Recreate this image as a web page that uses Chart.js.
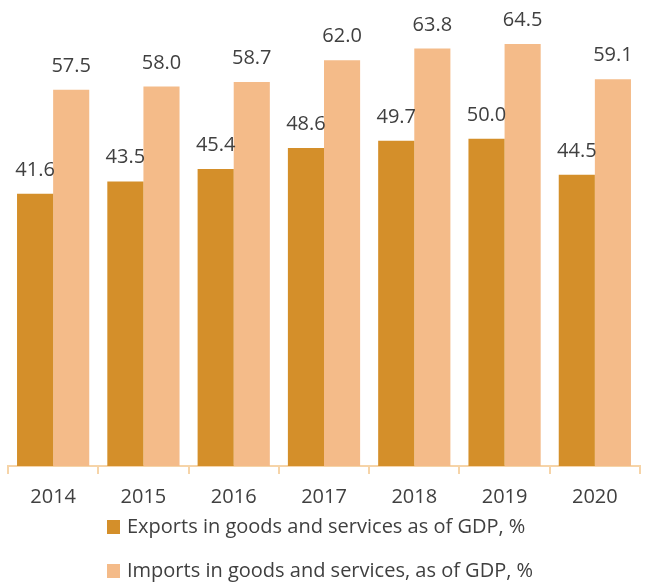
<!DOCTYPE html>
<html>
<head>
<meta charset="utf-8">
<script src="https://cdn.jsdelivr.net/npm/chart.js@4"></script>
<style>
    html, body { margin: 0; padding: 0; background: #fff; }
    #wrap { width: 647px; height: 583px; }
</style>
</head>
<body>
<div id="wrap"><canvas id="myChart"></canvas></div>
<script>
var years = ['2014', '2015', '2016', '2017', '2018', '2019', '2020'];
var exportsGdp = [41.6, 43.5, 45.4, 48.6, 49.7, 50.0, 44.5];
var importsGdp = [57.5, 58.0, 58.7, 62.0, 63.8, 64.5, 59.1];

var FONT = 'Open Sans';

// draws the value above every bar
var valueLabels = {
    id: 'valueLabels',
    afterDatasetsDraw: (chart) => {
        var ctx = chart.ctx;
        ctx.save();
        ctx.font = '20px "' + FONT + '"';
        ctx.fillStyle = '#404040';
        ctx.textAlign = 'center';
        ctx.textBaseline = 'alphabetic';
        chart.data.datasets.forEach((ds, i) => {
            chart.getDatasetMeta(i).data.forEach((bar, j) => {
                ctx.fillText(ds.data[j].toFixed(1), bar.x, bar.y - 18);
            });
        });
        ctx.restore();
    }
};

// legend stacked in two rows under the axis, left aligned
var stackedLegend = {
    id: 'stackedLegend',
    afterDraw: (chart) => {
        var ctx = chart.ctx;
        var left = 107;
        var firstRow = chart.chartArea.bottom + 61;
        ctx.save();
        ctx.font = '20px "' + FONT + '"';
        ctx.textAlign = 'left';
        ctx.textBaseline = 'middle';
        chart.data.datasets.forEach((ds, i) => {
            var y = firstRow + i * 44;
            ctx.fillStyle = ds.backgroundColor;
            ctx.fillRect(left, y - 7, 13, 14);
            ctx.fillStyle = '#404040';
            ctx.fillText(ds.label, left + 20, y);
        });
        ctx.restore();
    }
};

var ctx = document.getElementById('myChart').getContext('2d');
var myChart = new Chart(ctx, {
    type: 'bar',
    data: {
        labels: years,
        datasets: [{
            label: 'Exports in goods and services as of GDP, %',
            data: exportsGdp,
            backgroundColor: '#D48F2A',
            categoryPercentage: 0.8,
            barPercentage: 1.0
        }, {
            label: 'Imports in goods and services, as of GDP, %',
            data: importsGdp,
            backgroundColor: '#F4BB89',
            categoryPercentage: 0.8,
            barPercentage: 1.0
        }]
    },
    options: {
        responsive: true,
        maintainAspectRatio: false,
        animation: false,
        layout: {
            padding: { left: 8, right: 7, top: 8, bottom: 63 }
        },
        plugins: {
            tooltip: { enabled: false },
            legend: { display: false }
        },
        scales: {
            x: {
                grid: {
                    offset: true,
                    drawOnChartArea: false,
                    drawTicks: true,
                    tickLength: 8,
                    color: '#F6D4A8',
                    lineWidth: 2
                },
                border: { color: '#F6D4A8', width: 2 },
                ticks: {
                    color: '#404040',
                    font: { family: FONT, size: 20 },
                    padding: 11
                }
            },
            y: {
                display: false,
                min: 0,
                max: 70
            }
        }
    },
    plugins: [valueLabels, stackedLegend]
});
</script>
</body>
</html>
